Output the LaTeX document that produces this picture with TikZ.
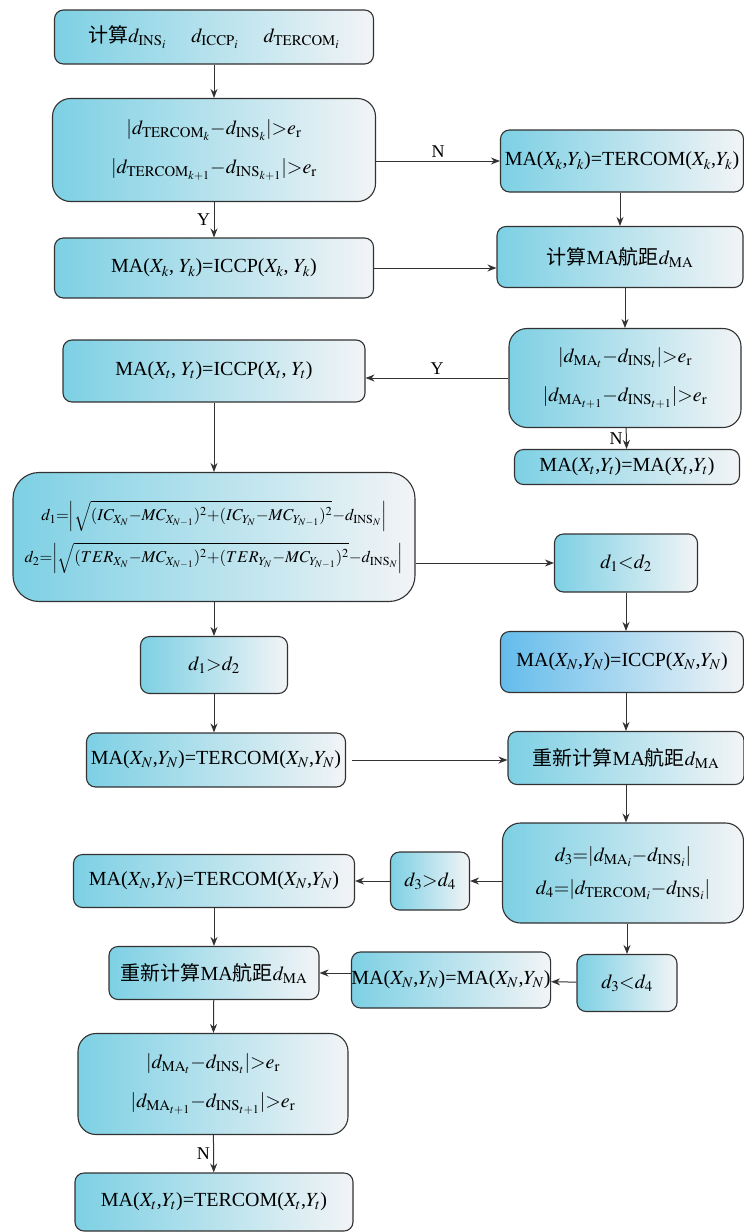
\documentclass[tikz,border=0pt]{standalone}
\usepackage{amsmath}
\usepackage{mathptmx}
\usepackage[no-math]{fontspec}
\setmainfont{Liberation Serif}
\newfontfamily\cjk{Noto Sans CJK SC}
\usetikzlibrary{arrows.meta,positioning}
\definecolor{boxleft}{RGB}{125,208,228}
\definecolor{boxleftb}{RGB}{100,188,235}
\definecolor{boxright}{RGB}{242,244,246}
\definecolor{boxline}{RGB}{50,50,50}
\newcommand{\rmsub}[1]{\mathrm{#1}}

\begin{document}
\begin{tikzpicture}[x=1pt,y=-1pt,
    flow/.style={draw=boxline, line width=1.1pt, rounded corners=9pt,
      left color=boxleft, right color=boxright, inner sep=0pt, align=center,
      font=\fontsize{20}{39}\selectfont,
      execute at begin node={\medmuskip=0mu\thickmuskip=0mu}},
    cond/.style={flow, rounded corners=18pt},
    arr/.style={-{Stealth[length=9pt,width=7pt]}, line width=1pt, draw=boxline},
    yn/.style={font=\fontsize{18}{20}\selectfont}]
\useasboundingbox (0,0) rectangle (744,1232);
% left column, top
\node[flow, minimum width=319, minimum height=54] (calc) at (214,37)
  {{\cjk 计算}$d_{\rmsub{INS}_i}$\quad\ $d_{\rmsub{ICCP}_i}$\quad\ $d_{\rmsub{TERCOM}_i}$};
\node[cond, minimum width=323, minimum height=103] (chk1) at (214,150)
  {$|d_{\rmsub{TERCOM}_k}-d_{\rmsub{INS}_k}|>e_{\rmsub{r}}$\\
   $|d_{\rmsub{TERCOM}_{k+1}}-d_{\rmsub{INS}_{k+1}}|>e_{\rmsub{r}}$};
\node[flow, minimum width=319, minimum height=60] (iccpk) at (214,268)
  {MA($X_k$, $Y_k$)=ICCP($X_k$, $Y_k$)};
% right column, top
\node[flow, minimum width=243, minimum height=62] (terk) at (622,161)
  {MA($X_k$,$Y_k$)=TERCOM($X_k$,$Y_k$)};
\node[flow, minimum width=246, minimum height=61] (dma) at (620,257)
  {{\cjk 计算}MA{\cjk 航距}$d_{\rmsub{MA}}$};
\node[cond, minimum width=232, minimum height=99] (chk2) at (625,378)
  {$|d_{\rmsub{MA}_t}-d_{\rmsub{INS}_t}|>e_{\rmsub{r}}$\\
   $|d_{\rmsub{MA}_{t+1}}-d_{\rmsub{INS}_{t+1}}|>e_{\rmsub{r}}$};
\node[flow, minimum width=225, minimum height=35] (mat) at (627,467)
  {MA($X_t$,$Y_t$)=MA($X_t$,$Y_t$)};
\node[flow, minimum width=302, minimum height=62] (iccpt) at (214,371)
  {MA($X_t$, $Y_t$)=ICCP($X_t$, $Y_t$)};
% distances d1, d2
\node[cond, rounded corners=26pt, minimum width=402, minimum height=129,
  font=\fontsize{16.5}{42}\selectfont] (dist) at (214,537)
  {$d_1=\Bigl|\sqrt{(IC_{X_N}-MC_{X_{N-1}})^2+(IC_{Y_N}-MC_{Y_{N-1}})^2}-d_{\rmsub{INS}_N}\Bigr|$\\
   $d_2=\Bigl|\sqrt{(TER_{X_N}-MC_{X_{N-1}})^2+(TER_{Y_N}-MC_{Y_{N-1}})^2}-d_{\rmsub{INS}_N}\Bigr|$};
\node[flow, minimum width=143, minimum height=58] (lt12) at (626,563) {$d_1<d_2$};
\node[flow, left color=boxleftb, minimum width=243, minimum height=61] (iccpn) at (622,662)
  {MA($X_N$,$Y_N$)=ICCP($X_N$,$Y_N$)};
\node[flow, minimum width=236, minimum height=53] (redma1) at (626,758)
  {{\cjk 重新计算}MA{\cjk 航距}$d_{\rmsub{MA}}$};
\node[flow, minimum width=147, minimum height=57] (gt12) at (214,665) {$d_1>d_2$};
\node[flow, minimum width=259, minimum height=54] (tern1) at (216,760)
  {MA($X_N$,$Y_N$)=TERCOM($X_N$,$Y_N$)};
% distances d3, d4
\node[cond, minimum width=241, minimum height=100,
  font=\fontsize{20}{33}\selectfont] (dist34) at (623,873)
  {$d_3=|d_{\rmsub{MA}_i}-d_{\rmsub{INS}_i}|$\\
   $d_4=|d_{\rmsub{TERCOM}_i}-d_{\rmsub{INS}_i}|$};
\node[flow, minimum width=79, minimum height=58] (gt34) at (430,881) {$d_3>d_4$};
\node[flow, minimum width=281, minimum height=53] (tern2) at (214,881)
  {MA($X_N$,$Y_N$)=TERCOM($X_N$,$Y_N$)};
\node[flow, minimum width=100, minimum height=57] (lt34) at (627,983) {$d_3<d_4$};
\node[flow, minimum width=198, minimum height=56] (man) at (451,980)
  {MA($X_N$,$Y_N$)=MA($X_N$,$Y_N$)};
% bottom of left column
\node[flow, minimum width=210, minimum height=53] (redma2) at (214,973)
  {{\cjk 重新计算}MA{\cjk 航距}$d_{\rmsub{MA}}$};
\node[cond, minimum width=270, minimum height=101] (chk3) at (213,1084)
  {$|d_{\rmsub{MA}_t}-d_{\rmsub{INS}_t}|>e_{\rmsub{r}}$\\
   $|d_{\rmsub{MA}_{t+1}}-d_{\rmsub{INS}_{t+1}}|>e_{\rmsub{r}}$};
\node[flow, minimum width=278, minimum height=58] (tert) at (214,1202)
  {MA($X_t$,$Y_t$)=TERCOM($X_t$,$Y_t$)};
% connectors
\draw[arr] (calc) -- (chk1);
\draw[arr] (chk1) -- (iccpk) node[midway,left,yn] {Y};
\draw[arr] (chk1.east |- terk) -- (terk.west) node[midway,above,yn] {N};
\draw[arr] (terk.south -| dma) -- (dma.north -| dma);
\draw[arr] (iccpk) -- (iccpk -| dma.west);
\draw[arr] (dma.south -| chk2) -- (chk2);
\draw[arr] (chk2) -- (chk2 -| iccpt.east) node[midway,above,yn] {Y};
\draw[arr] (chk2) -- (mat) node[midway,left,yn] {N};
\draw[arr] (iccpt) -- (dist);
\draw[arr] (dist.east |- lt12) -- (lt12);
\draw[arr] (lt12) -- (lt12 |- iccpn.north);
\draw[arr] (iccpn.south -| lt12) -- (lt12 |- redma1.north);
\draw[arr] (dist) -- (gt12);
\draw[arr] (gt12) -- (gt12 |- tern1.north);
\draw[arr] ([xshift=6pt]tern1.east) -- (redma1.west |- tern1);
\draw[arr] (redma1.south -| lt12) -- (lt12 |- dist34.north);
\draw[arr] (dist34.west |- gt34) -- (gt34);
\draw[arr] (gt34) -- (tern2);
\draw[arr] (dist34.south -| lt34) -- (lt34);
\draw[arr] (lt34) -- (man);
\draw[arr] (man.west |- redma2) -- (redma2);
\draw[arr] (tern2) -- (redma2);
\draw[arr] (redma2) -- (chk3);
\draw[arr] (chk3) -- (tert) node[midway,left,yn] {N};
\end{tikzpicture}
\end{document}
